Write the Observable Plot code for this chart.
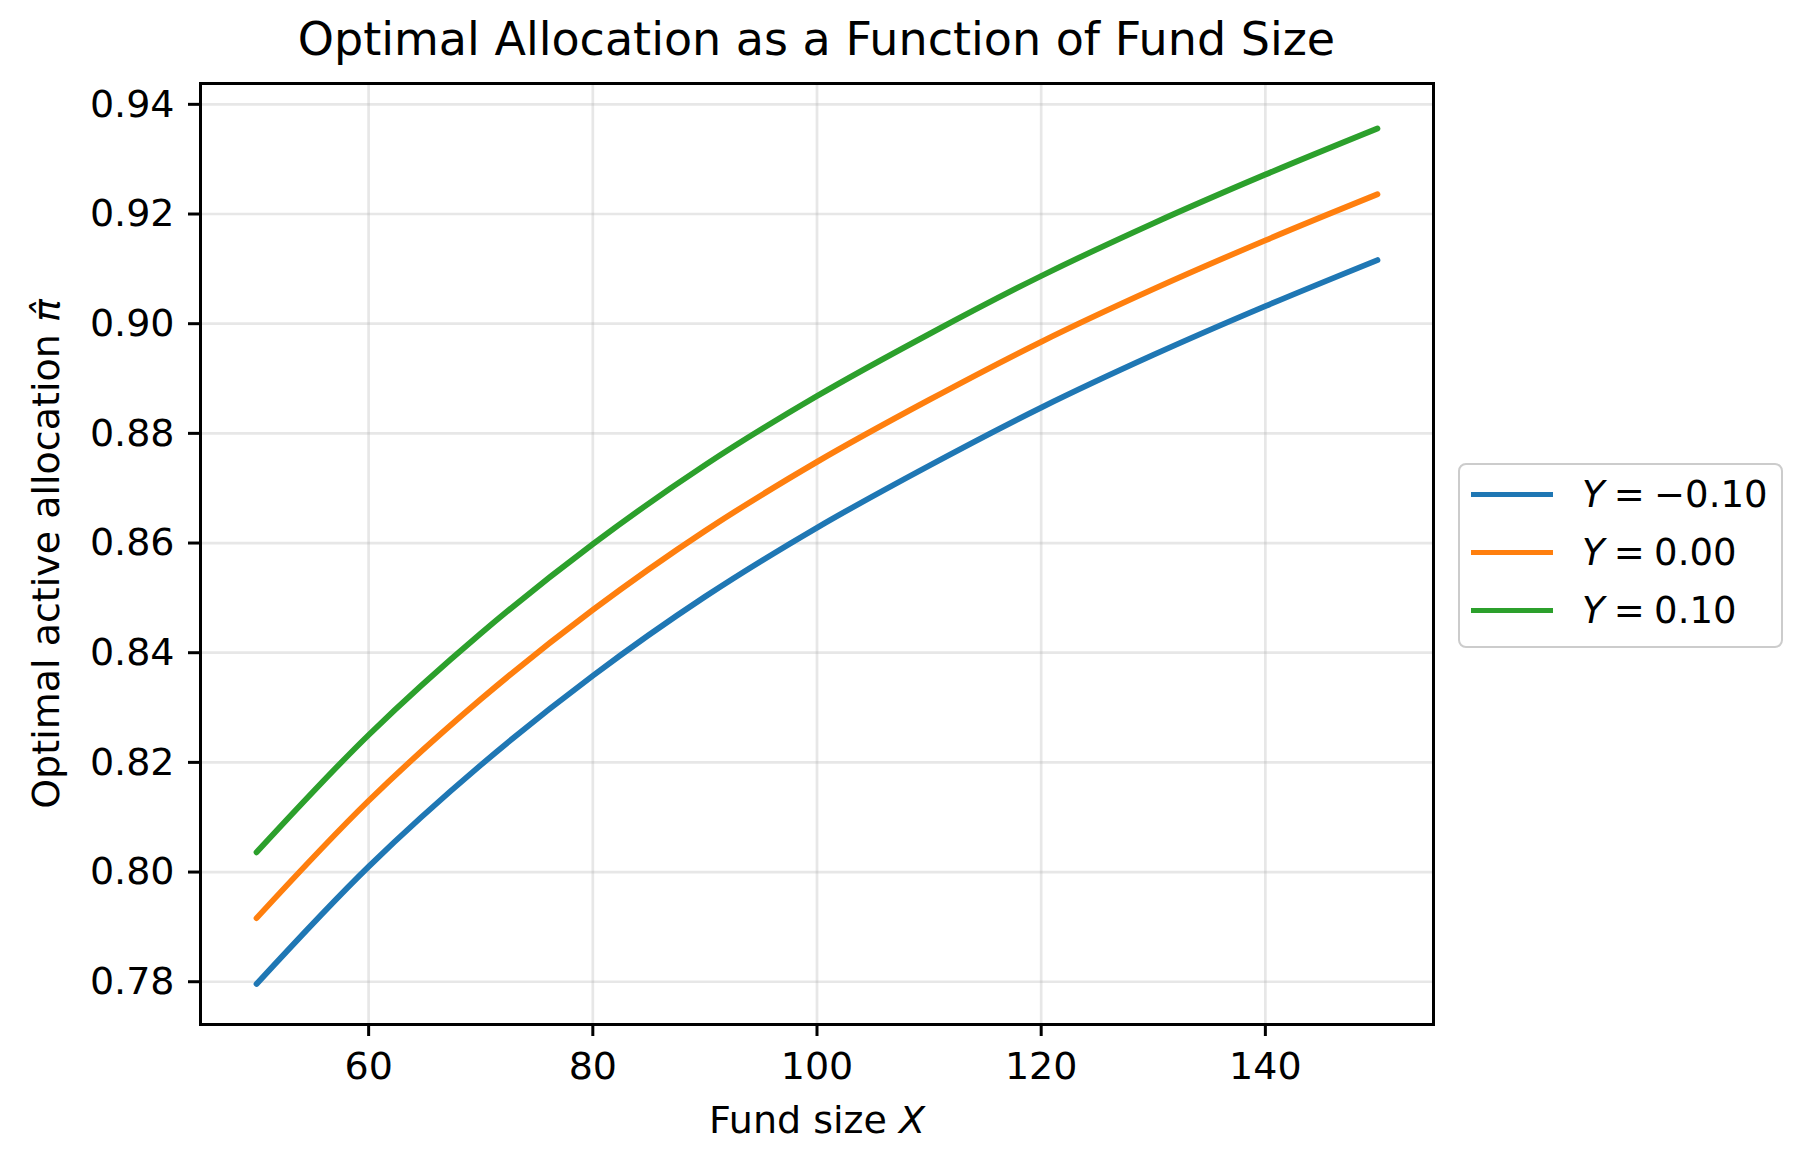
<!DOCTYPE html>
<html>
<head>
<meta charset="utf-8">
<script src="https://cdn.jsdelivr.net/npm/d3@7"></script>
<script src="https://cdn.jsdelivr.net/npm/@observablehq/plot@0.6"></script>
<style>
  html, body { margin: 0; padding: 0; background: #fff; }
  #wrap { position: relative; width: 1807px; height: 1154px; font-family: "DejaVu Sans", sans-serif; color: #000; overflow: hidden; }
  #title { position: absolute; left: 200px; width: 1233px; top: 16px; text-align: center; font-size: 46px; line-height: 46px; white-space: nowrap; }
  #chart { position: absolute; left: 0; top: 70px; }
  #legend { position: absolute; left: 1458px; top: 463px; width: 325px; height: 185px; box-sizing: border-box; border: 2.5px solid #cccccc; border-radius: 8px; background: rgba(255,255,255,0.8); }
  .row { position: absolute; left: 0; width: 100%; height: 58px; }
  .sw { position: absolute; left: 10.5px; top: 26px; width: 82px; height: 5.5px; }
  .lab { position: absolute; left: 122px; top: 0; height: 58px; line-height: 58px; font-size: 37px; white-space: nowrap; }
  .lab i { font-style: italic; }
</style>
</head>
<body>
<div id="wrap">
  <div id="title"></div>
  <div id="chart"></div>
  <div id="legend"></div>
</div>
<script>
// ---- data ----
const titleText = "Optimal Allocation as a Function of Fund Size";
const xLabelText = "Fund size X";
const yLabelText = "Optimal active allocation \u03C0\u0302";
const fundSize = [50, 60, 70, 80, 90, 100, 110, 120, 130, 140, 150];
const piYneg010 = [0.7796, 0.8010, 0.8195, 0.8358, 0.8502, 0.8628, 0.8741, 0.8847, 0.8943, 0.9032, 0.9116];
const piY000   = [0.7916, 0.8130, 0.8315, 0.8478, 0.8622, 0.8748, 0.8861, 0.8967, 0.9063, 0.9152, 0.9236];
const piY010   = [0.8036, 0.8250, 0.8435, 0.8598, 0.8742, 0.8868, 0.8981, 0.9087, 0.9183, 0.9272, 0.9356];
const seriesNames = ["Y = \u22120.10", "Y = 0.00", "Y = 0.10"];
const seriesValues = [piYneg010, piY000, piY010];
const seriesColors = ["#1f77b4", "#ff7f0e", "#2ca02c"];
const xTicks = [60, 80, 100, 120, 140];
const yTicks = [0.78, 0.80, 0.82, 0.84, 0.86, 0.88, 0.90, 0.92, 0.94];
const xDomain = [45, 155];
const yDomain = [0.7722, 0.9438];

// tidy table for Plot
const rows = [];
seriesNames.forEach((name, i) => {
  fundSize.forEach((x, j) => rows.push({series: name, X: x, pi: seriesValues[i][j]}));
});

document.getElementById("title").textContent = titleText;

const gridStyle = {stroke: "#b0b0b0", strokeOpacity: 0.3, strokeWidth: 2.7};

const chart = Plot.plot({
  width: 1807,
  height: 1084,
  marginLeft: 200,
  marginRight: 374,
  marginTop: 13,
  marginBottom: 130,
  style: {fontFamily: "DejaVu Sans", fontSize: "38px", background: "white", overflow: "visible", color: "black"},
  x: {domain: xDomain},
  y: {domain: yDomain},
  color: {domain: seriesNames, range: seriesColors},
  marks: [
    Plot.gridX(xTicks, gridStyle),
    Plot.gridY(yTicks, gridStyle),
    Plot.line(rows, {x: "X", y: "pi", z: "series", stroke: "series", strokeWidth: 5.8, curve: "catmull-rom"}),
    Plot.frame({stroke: "black", strokeWidth: 3}),
    Plot.axisX(xTicks, {tickSize: 12, tickPadding: 16, fontSize: 38, strokeWidth: 3, label: null, tickFormat: d => String(d)}),
    Plot.axisY(yTicks, {tickSize: 12, tickPadding: 14, fontSize: 38, strokeWidth: 3, label: null, tickFormat: d3.format(".2f")}),
    Plot.text([xLabelText], {text: d => d, frameAnchor: "bottom", lineAnchor: "bottom", textAnchor: "middle", dy: 108, fontSize: 38, fill: "black"}),
    Plot.text([yLabelText], {text: d => d, frameAnchor: "left", textAnchor: "middle", rotate: -90, dx: -154, fontSize: 38, fill: "black"})
  ]
});
document.getElementById("chart").appendChild(chart);

// italic math variables in axis labels
d3.select(chart).selectAll("text").each(function() {
  const t = this.textContent;
  if (t === xLabelText) {
    d3.select(this).html('Fund size <tspan font-style="italic">X</tspan>');
  } else if (t === yLabelText) {
    d3.select(this).html('Optimal active allocation <tspan font-style="italic">\u03C0\u0302</tspan>');
  }
});

// legend
const legend = d3.select("#legend");
const rowTops = [0.5, 58.5, 116.5];
seriesNames.forEach((name, i) => {
  const r = legend.append("div").attr("class", "row").style("top", rowTops[i] + "px");
  r.append("div").attr("class", "sw").style("background", seriesColors[i]);
  const parts = name.split(" = ");
  r.append("div").attr("class", "lab").html("<i>Y</i>\u2005=\u2005" + parts[1]);
});
</script>
</body>
</html>
